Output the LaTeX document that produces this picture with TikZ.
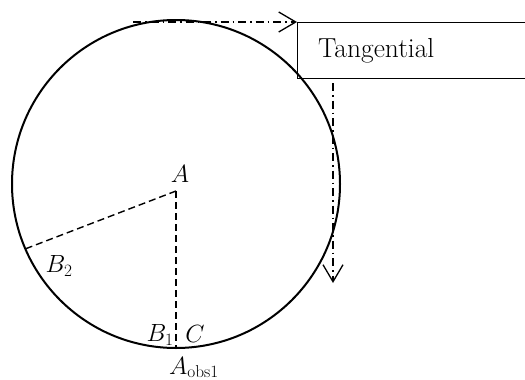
\documentclass[tikz,border=0pt]{standalone}
\usetikzlibrary{arrows.meta}
\begin{document}
\begin{tikzpicture}[x=1pt,y=-1pt,
  lab/.style={inner sep=0pt,font=\fontsize{24}{28}\selectfont},
  dashline/.style={line width=1.4pt,dash pattern=on 7pt off 4pt},
  dashdotline/.style={line width=1.3pt,dash pattern=on 8pt off 4pt on 1.5pt off 4pt,
    -{Straight Barb[length=17pt,width=20pt,line width=1.3pt]}}]
\useasboundingbox (0,0) rectangle (525,380);
\clip (0,0) rectangle (525,380);
\node[circle,draw,line width=2pt,minimum size=328pt,inner sep=0pt] (circ) at (176,184) {};
\coordinate (Ac) at (176,191);
\coordinate (B2pt) at (25,249);
\coordinate (Bot) at (176,348);
\draw[dashline] (Ac) -- (B2pt);
\draw[dashline] (Ac) -- (Bot);
\node[lab] (Alab) at (180,174) {$A$};
\node[lab] (B2lab) at (59,266) {$B_2$};
\node[lab] (B1lab) at (160,335) {$B_1$};
\node[lab] (Clab) at (195,334) {$C$};
\node[lab,anchor=base] (Aobs) at (194,374) {$A_{\mathrm{obs1}}$};
\node[draw,line width=0.8pt,anchor=north west,minimum width=300pt,minimum height=56pt,inner sep=0pt] (box) at (297,22) {};
\node[anchor=base west,inner sep=0pt,font=\fontsize{27.5}{32}\selectfont] (tang) at (318,57) {Tangential};
\coordinate (hs) at (133,22);
\draw[dashdotline] (hs) -- (box.north west);
\coordinate (vs) at (333,83);
\coordinate (ve) at (333,283);
\draw[dashdotline] (vs) -- (ve);
\end{tikzpicture}
\end{document}
